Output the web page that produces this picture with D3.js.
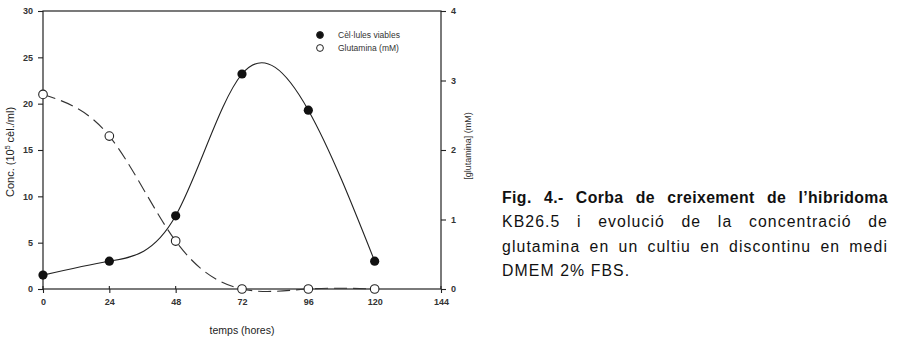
<!DOCTYPE html>
<html>
<head>
<meta charset="utf-8">
<script src="https://cdn.jsdelivr.net/npm/d3@7"></script>
<style>
  body { margin: 0; background: #fff; }
  #wrap { position: relative; width: 899px; height: 342px; }
  .caption {
    position: absolute; left: 502px; top: 186px; width: 386px;
    font-family: "Liberation Sans", Arial, sans-serif; font-size: 15.8px;
    line-height: 24.3px; color: #111; letter-spacing: 1.1px;
  }
  .caption div { text-align: justify; text-align-last: justify; white-space: nowrap; }
  .caption div.last { text-align-last: left; }
  .caption div.bold { font-weight: bold; letter-spacing: 0.4px; }
</style>
</head>
<body>
<div id="wrap"></div>
<script>
// hours of sampling
const hours = [0, 24, 48, 72, 96, 120];
// viable cells (10^5 cel/ml)
const cells = [1.5, 3.0, 7.9, 23.2, 19.3, 3.0];
// glutamine (mM)
const glutamine = [2.8, 2.2, 0.69, 0, 0, 0];
const xTicks = [0, 24, 48, 72, 96, 120, 144];
const yTicks = [0, 5, 10, 15, 20, 25, 30];
const y2Ticks = [0, 1, 2, 3, 4];
const legendLabels = ['Cèl·lules viables', 'Glutamina (mM)'];
const captionLines = [
  'Fig. 4.- Corba de creixement de l’hibridoma',
  'KB26.5 i evolució de la concentració de',
  'glutamina en un cultiu en discontinu en medi',
  'DMEM 2% FBS.'
];

const W = 899, H = 342;
const plotL = 43, plotR = 441, plotT = 11, plotB = 289;

const svg = d3.select('#wrap').append('svg')
  .attr('width', W).attr('height', H)
  .style('position', 'absolute').style('left', 0).style('top', 0);

const x = d3.scaleLinear().domain([0, 144]).range([plotL, plotR]);
const y = d3.scaleLinear().domain([0, 30]).range([plotB, plotT]);
const y2 = d3.scaleLinear().domain([0, 4]).range([plotB, plotT]);

const ink = '#222';
const font = '"Liberation Sans", Arial, sans-serif';

// frame
svg.append('rect')
  .attr('x', plotL).attr('y', plotT)
  .attr('width', plotR - plotL).attr('height', plotB - plotT)
  .attr('fill', 'none').attr('stroke', ink).attr('stroke-width', 1.2);

// axes
const styleAxis = g => {
  g.select('.domain').remove();
  g.selectAll('line').attr('stroke', ink).attr('stroke-width', 1.1);
  g.selectAll('text').attr('font-family', font).attr('font-size', 9)
    .attr('font-weight', 'bold').attr('fill', '#333');
};

svg.append('g').attr('transform', `translate(0,${plotB})`)
  .call(d3.axisBottom(x).tickValues(xTicks).tickSize(4).tickPadding(6))
  .call(styleAxis);
// small tick stubs above the axis too
svg.append('g').selectAll('line').data(xTicks).join('line')
  .attr('x1', d => x(d)).attr('x2', d => x(d))
  .attr('y1', plotB).attr('y2', plotB - 3)
  .attr('stroke', ink).attr('stroke-width', 1.1);

svg.append('g').attr('transform', `translate(${plotL},0)`)
  .call(d3.axisLeft(y).tickValues(yTicks).tickSize(5).tickPadding(5))
  .call(styleAxis);

svg.append('g').attr('transform', `translate(${plotR},0)`)
  .call(d3.axisRight(y2).tickValues(y2Ticks).tickFormat(d3.format('d')).tickSize(5).tickPadding(5))
  .call(styleAxis);

// axis titles
svg.append('text')
  .attr('x', x(72)).attr('y', 334)
  .attr('text-anchor', 'middle')
  .attr('font-family', font).attr('font-size', 10.5).attr('fill', '#222')
  .text('temps (hores)');

const yl = svg.append('text')
  .attr('transform', `translate(14,152) rotate(-90)`)
  .attr('text-anchor', 'middle')
  .attr('font-family', font).attr('font-size', 11).attr('fill', '#222');
yl.append('tspan').text('Conc. (10');
yl.append('tspan').attr('dy', -4).attr('font-size', 7).text('5');
yl.append('tspan').attr('dy', 4).text(' cèl./ml)');

svg.append('text')
  .attr('transform', `translate(471,146) rotate(-90)`)
  .attr('text-anchor', 'middle')
  .attr('font-family', font).attr('font-size', 9).attr('fill', '#333')
  .text('[glutamina] (mM)');

// curves
const cellPts = hours.map((h, i) => [h, cells[i]]);
const glnPts = hours.map((h, i) => [h, glutamine[i]]);

svg.append('path')
  .datum(cellPts)
  .attr('d', d3.line().x(d => x(d[0])).y(d => y(d[1])).curve(d3.curveNatural))
  .attr('fill', 'none').attr('stroke', ink).attr('stroke-width', 1.1);

svg.append('path')
  .datum(glnPts)
  .attr('d', d3.line().x(d => x(d[0])).y(d => y2(d[1])).curve(d3.curveNatural))
  .attr('fill', 'none').attr('stroke', '#333').attr('stroke-width', 1.1)
  .attr('stroke-dasharray', '13,6');

// markers
svg.append('g').selectAll('circle').data(cellPts).join('circle')
  .attr('cx', d => x(d[0])).attr('cy', d => y(d[1])).attr('r', 4.6)
  .attr('fill', '#111');

svg.append('g').selectAll('circle').data(glnPts).join('circle')
  .attr('cx', d => x(d[0])).attr('cy', d => y2(d[1])).attr('r', 4.3)
  .attr('fill', '#fff').attr('stroke', '#222').attr('stroke-width', 1.1);

// legend
const lg = svg.append('g');
legendLabels.forEach((lab, i) => {
  const cy = 35 + i * 13;
  lg.append('circle').attr('cx', 320).attr('cy', cy).attr('r', 3.4)
    .attr('fill', i === 0 ? '#111' : '#fff')
    .attr('stroke', '#222').attr('stroke-width', 1);
  lg.append('text').attr('x', 338).attr('y', cy + 3)
    .attr('font-family', font).attr('font-size', 8.5).attr('fill', '#333')
    .text(lab);
});

// caption, one block per printed line
d3.select('#wrap').append('div').attr('class', 'caption')
  .selectAll('div').data(captionLines).join('div')
  .attr('class', (d, i) => i === 0 ? 'bold' : (i === captionLines.length - 1 ? 'last' : null))
  .text(d => d);
</script>
</body>
</html>
